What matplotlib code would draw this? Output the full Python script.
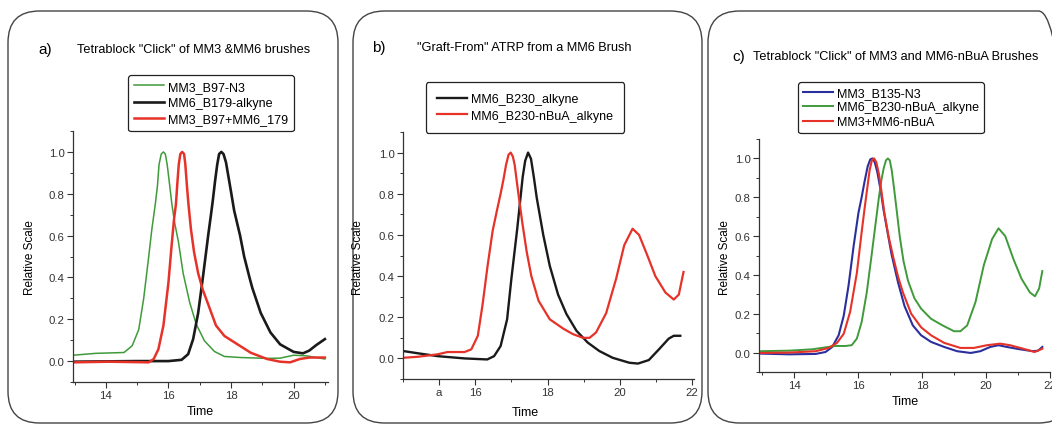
import matplotlib.pyplot as plt
from matplotlib.patches import FancyBboxPatch
from matplotlib.ticker import MultipleLocator, FixedLocator

plt.rcParams['font.family'] = ['Liberation Sans', 'DejaVu Sans']

# ---- panel a) data ----
a_green_x = [12.95, 13.68, 14.58, 14.84, 15.05, 15.21, 15.37, 15.47, 15.58, 15.65, 15.70, 15.77,
             15.84, 15.90, 15.96, 16.04, 16.11, 16.2, 16.32, 16.47, 16.68, 16.89, 17.15, 17.47,
             17.79, 18.31, 19.15, 19.57, 20.0, 20.42, 21.0]
a_green_y = [0.028, 0.037, 0.041, 0.073, 0.15, 0.30, 0.50, 0.63, 0.75, 0.84, 0.94, 0.99,
             1.0, 0.99, 0.94, 0.84, 0.75, 0.66, 0.57, 0.42, 0.28, 0.176, 0.097, 0.046,
             0.022, 0.017, 0.013, 0.014, 0.028, 0.025, 0.01]
a_black_x = [12.95, 14.95, 16.0, 16.42, 16.63, 16.79, 16.95, 17.11, 17.27, 17.36, 17.42, 17.49,
             17.56, 17.62, 17.69, 17.76, 17.84, 17.92, 18.0, 18.1, 18.29, 18.42, 18.59, 18.68,
             18.95, 19.26, 19.57, 20.0, 20.3, 20.5, 20.72, 21.0]
a_black_y = [-0.003, 0.0, 0.0, 0.006, 0.033, 0.105, 0.23, 0.41, 0.6, 0.7, 0.77, 0.86,
             0.94, 0.99, 1.0, 0.99, 0.95, 0.88, 0.81, 0.72, 0.6, 0.5, 0.4, 0.35,
             0.23, 0.137, 0.08, 0.044, 0.037, 0.05, 0.076, 0.105]
a_red_x = [12.95, 14.1, 15.37, 15.53, 15.68, 15.84, 16.0, 16.1, 16.18, 16.24, 16.28, 16.33,
           16.38, 16.44, 16.5, 16.54, 16.59, 16.64, 16.72, 16.82, 16.95, 17.1, 17.25, 17.52,
           17.79, 18.21, 18.63, 19.15, 19.57, 19.89, 20.2, 20.5, 21.0]
a_red_y = [-0.006, -0.003, -0.006, 0.01, 0.057, 0.17, 0.375, 0.55, 0.68, 0.75, 0.84, 0.94,
           0.99, 1.0, 0.99, 0.94, 0.84, 0.75, 0.63, 0.52, 0.42, 0.34, 0.28, 0.17,
           0.12, 0.08, 0.04, 0.01, -0.003, -0.006, 0.01, 0.017, 0.017]

# ---- panel b) data ----
b_black_x = [14.0, 14.41, 14.96, 15.7, 16.33, 16.52, 16.7, 16.88, 17.0, 17.16, 17.25, 17.31,
             17.38, 17.46, 17.54, 17.62, 17.7, 17.8, 17.88, 18.06, 18.29, 18.52, 18.8, 19.11,
             19.43, 19.8, 20.26, 20.5, 20.8, 21.08, 21.35, 21.49, 21.67]
b_black_y = [0.036, 0.025, 0.011, 0.0, -0.005, 0.011, 0.06, 0.19, 0.39, 0.63, 0.78, 0.88,
             0.96, 1.0, 0.97, 0.88, 0.78, 0.68, 0.6, 0.45, 0.31, 0.216, 0.134, 0.077,
             0.036, 0.003, -0.021, -0.025, -0.008, 0.044, 0.096, 0.11, 0.11]
b_red_x = [14.0, 14.41, 14.96, 15.23, 15.7, 15.89, 16.07, 16.2, 16.34, 16.48, 16.6, 16.7,
           16.78, 16.85, 16.92, 16.98, 17.04, 17.09, 17.14, 17.2, 17.3, 17.42, 17.55, 17.75,
           18.06, 18.43, 18.7, 18.98, 19.16, 19.34, 19.62, 19.9, 20.12, 20.35, 20.53, 20.76,
           20.98, 21.26, 21.49, 21.63, 21.76]
b_red_y = [0.003, 0.008, 0.02, 0.031, 0.031, 0.044, 0.11, 0.26, 0.45, 0.62, 0.72, 0.80,
           0.87, 0.94, 0.99, 1.0, 0.98, 0.94, 0.87, 0.79, 0.66, 0.52, 0.40, 0.28,
           0.19, 0.145, 0.118, 0.10, 0.10, 0.126, 0.22, 0.39, 0.55, 0.63, 0.60, 0.50,
           0.40, 0.32, 0.286, 0.31, 0.42]

# ---- panel c) data ----
c_blue_x = [12.9, 13.85, 14.67, 14.98, 15.19, 15.39, 15.55, 15.7, 15.86, 16.01, 16.11, 16.2,
            16.3, 16.38, 16.45, 16.52, 16.6, 16.7, 16.8, 16.92, 17.04, 17.25, 17.45, 17.71,
            17.97, 18.28, 18.69, 19.1, 19.52, 19.82, 20.13, 20.39, 20.65, 21.06, 21.47, 21.63,
            21.76]
c_blue_y = [-0.005, -0.009, -0.007, 0.003, 0.029, 0.089, 0.19, 0.345, 0.55, 0.72, 0.80, 0.88,
            0.96, 0.995, 1.0, 0.98, 0.93, 0.84, 0.73, 0.62, 0.51, 0.36, 0.24, 0.14,
            0.089, 0.055, 0.029, 0.007, -0.002, 0.007, 0.029, 0.038, 0.029, 0.017, 0.007, 0.01,
            0.029]
c_green_x = [12.9, 13.85, 14.57, 14.98, 15.29, 15.6, 15.8, 15.96, 16.11, 16.27, 16.42, 16.55,
             16.65, 16.73, 16.8, 16.87, 16.93, 16.99, 17.05, 17.12, 17.2, 17.3, 17.42, 17.56,
             17.76, 17.97, 18.28, 18.64, 19.0, 19.2, 19.41, 19.67, 19.93, 20.19, 20.39, 20.6,
             20.86, 21.11, 21.37, 21.53, 21.66, 21.76]
c_green_y = [0.007, 0.01, 0.017, 0.027, 0.034, 0.034, 0.038, 0.072, 0.157, 0.31, 0.50, 0.67,
             0.80, 0.89, 0.95, 0.99, 1.0, 0.99, 0.94, 0.85, 0.74, 0.60, 0.47, 0.37,
             0.28, 0.226, 0.174, 0.14, 0.11, 0.11, 0.14, 0.26, 0.45, 0.585, 0.64, 0.60,
             0.48, 0.38, 0.31, 0.29, 0.33, 0.42]
c_red_x = [12.9, 13.85, 14.67, 15.08, 15.34, 15.55, 15.75, 15.96, 16.11, 16.2, 16.28, 16.36,
           16.43, 16.5, 16.57, 16.65, 16.73, 16.82, 16.95, 17.1, 17.25, 17.4, 17.66, 17.97,
           18.28, 18.69, 19.2, 19.62, 20.03, 20.44, 20.75, 21.16, 21.52, 21.76]
c_red_y = [-0.002, 0.0, 0.007, 0.024, 0.05, 0.097, 0.21, 0.41, 0.62, 0.74, 0.84, 0.94,
           0.99, 1.0, 0.98, 0.92, 0.83, 0.72, 0.60, 0.49, 0.39, 0.31, 0.20, 0.13,
           0.089, 0.05, 0.024, 0.024, 0.038, 0.046, 0.038, 0.02, 0.003, 0.02]

GREEN = '#3f9b3a'
RED = '#e63228'
BLACK = '#1a1a1a'
BLUE = '#2b2f9e'

W, H = 1052, 427
fig = plt.figure(figsize=(W / 100, H / 100), dpi=100)


def px(x, y):
    return x / W, 1 - y / H


# rounded panel frames
for x0, x1 in [(8, 338), (353, 702), (708, 1070)]:
    fx0, fy1 = px(x0, 12)
    fx1, fy0 = px(x1, 424)
    fig.patches.append(FancyBboxPatch((fx0, fy0), fx1 - fx0, fy1 - fy0,
                                      boxstyle='round,pad=0,rounding_size=0.03',
                                      transform=fig.transFigure, fill=False,
                                      edgecolor='#444444', linewidth=1.0,
                                      mutation_aspect=W / H))


def make_axes(l, r, t, b, xlim, xmajor, xlabels):
    ax = fig.add_axes([l / W, 1 - b / H, (r - l) / W, (b - t) / H])
    ax.set_xlim(*xlim)
    ax.set_ylim(-0.1, 1.1)
    for s in ['top', 'right']:
        ax.spines[s].set_visible(False)
    for s in ['left', 'bottom']:
        ax.spines[s].set_linewidth(0.9)
        ax.spines[s].set_color('#333333')
    ax.yaxis.set_major_locator(FixedLocator([0.0, 0.2, 0.4, 0.6, 0.8, 1.0]))
    ax.yaxis.set_minor_locator(MultipleLocator(0.1))
    ax.set_yticklabels(['0.0', '0.2', '0.4', '0.6', '0.8', '1.0'])
    ax.xaxis.set_major_locator(FixedLocator(xmajor))
    ax.set_xticklabels(xlabels)
    ax.xaxis.set_minor_locator(MultipleLocator(1))
    ax.tick_params(which='major', direction='out', length=4, width=0.8,
                   labelsize=8.2, pad=2, colors='#333333')
    ax.tick_params(which='minor', direction='out', length=2, width=0.7, colors='#333333')
    return ax


def add_legend(ax, anchor, pad, spacing):
    leg = ax.legend(bbox_to_anchor=px(*anchor), bbox_transform=fig.transFigure,
                    fontsize=9, frameon=True, fancybox=True, edgecolor='#222222',
                    handlelength=2.4, labelspacing=spacing, borderpad=pad,
                    handletextpad=0.3, loc='upper center', framealpha=1,
                    borderaxespad=0)
    leg.get_frame().set_linewidth(0.9)
    return leg


# ---- a) ----
ax = make_axes(73, 328, 132, 383, (12.95, 21.1), [14, 16, 18, 20], ['14', '16', '18', '20'])
ax.plot(a_green_x, a_green_y, color=GREEN, lw=1.1, label='MM3_B97-N3')
ax.plot(a_black_x, a_black_y, color=BLACK, lw=1.9, label='MM6_B179-alkyne')
ax.plot(a_red_x, a_red_y, color=RED, lw=1.8, label='MM3_B97+MM6_179')
add_legend(ax, (211, 76), 0.45, 0.35)
fig.text(*px(38, 50), 'a)', fontsize=11, ha='left', va='center')
fig.text(*px(77, 50), 'Tetrablock "Click" of MM3 &MM6 brushes', fontsize=9.2, ha='left', va='center')
fig.text(*px(30, 258), 'Relative Scale', fontsize=8.5, rotation=90, ha='center', va='center')
fig.text(*px(200, 412), 'Time', fontsize=9, ha='center', va='center')

# ---- b) ----
ax = make_axes(403, 694, 133, 380, (14.0, 22.05), [15, 16, 18, 20, 22], ['a', '16', '18', '20', '22'])
ax.plot(b_black_x, b_black_y, color=BLACK, lw=1.7, label='MM6_B230_alkyne')
ax.plot(b_red_x, b_red_y, color=RED, lw=1.6, label='MM6_B230-nBuA_alkyne')
add_legend(ax, (525, 83), 0.9, 0.35)
fig.text(*px(372, 48), 'b)', fontsize=11, ha='left', va='center')
fig.text(*px(417, 48), '"Graft-From" ATRP from a MM6 Brush', fontsize=9.2, ha='left', va='center')
fig.text(*px(358, 258), 'Relative Scale', fontsize=8.5, rotation=90, ha='center', va='center')
fig.text(*px(525, 413), 'Time', fontsize=9, ha='center', va='center')

# ---- c) ----
ax = make_axes(759, 1050, 140, 373, (12.9, 22.0), [14, 16, 18, 20, 22], ['14', '16', '18', '20', '22'])
ax.plot(c_blue_x, c_blue_y, color=BLUE, lw=1.5, label='MM3_B135-N3')
ax.plot(c_green_x, c_green_y, color=GREEN, lw=1.4, label='MM6_B230-nBuA_alkyne')
ax.plot(c_red_x, c_red_y, color=RED, lw=1.5, label='MM3+MM6-nBuA')
add_legend(ax, (891, 83), 0.4, 0.2)
fig.text(*px(732, 57), 'c)', fontsize=11, ha='left', va='center')
fig.text(*px(753, 57), 'Tetrablock "Click" of MM3 and MM6-nBuA Brushes', fontsize=9.2, ha='left', va='center')
fig.text(*px(725, 258), 'Relative Scale', fontsize=8.5, rotation=90, ha='center', va='center')
fig.text(*px(905, 402), 'Time', fontsize=9, ha='center', va='center')

fig.savefig('out.png', dpi=100)
